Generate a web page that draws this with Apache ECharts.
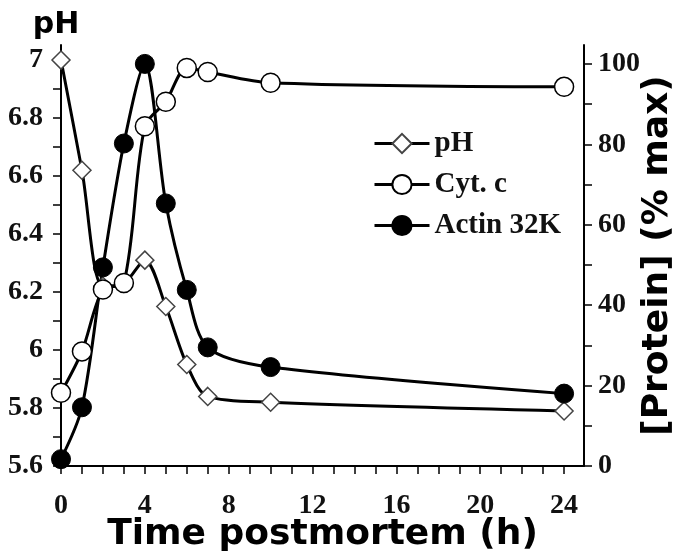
<!DOCTYPE html>
<html>
<head>
<meta charset="utf-8">
<title>pH and protein postmortem</title>
<script src="https://cdn.jsdelivr.net/npm/echarts@6/dist/echarts.min.js"></script>
<style>
  html, body { margin: 0; padding: 0; background: #fff; }
  #main { width: 675px; height: 557px; }
</style>
</head>
<body>
<div id="main"></div>
<script>
// hours postmortem
var hours = [0, 1, 2, 3, 4, 5, 6, 7, 10, 24];
// pH (left axis)
var phValues = [7.0, 6.62, 6.22, 6.23, 6.31, 6.15, 5.95, 5.84, 5.82, 5.79];
// [Protein] % max (right axis)
var cytC = [18.2, 28.5, 43.9, 45.5, 84.5, 90.6, 99, 98, 95.3, 94.3];
var actin32k = [1.7, 14.6, 49.4, 80.2, 100, 65.3, 43.8, 29.5, 24.6, 18];

// ticks and labels
var xTicks = [0, 1, 2, 3, 4, 5, 6, 7, 8, 9, 10, 11, 12, 13, 14, 15, 16, 17, 18, 19, 20, 21, 22, 23, 24];
var xLabels = [0, 4, 8, 12, 16, 20, 24];
var phTicks = [5.6, 5.7, 5.8, 5.9, 6, 6.1, 6.2, 6.3, 6.4, 6.5, 6.6, 6.7, 6.8, 6.9, 7];
var phLabels = [5.6, 5.8, 6, 6.2, 6.4, 6.6, 6.8, 7];
var protTicks = [0, 10, 20, 30, 40, 50, 60, 70, 80, 90, 100];
var protLabels = [0, 20, 40, 60, 80, 100];

function pairs(xs, ys) {
    var out = [];
    for (var i = 0; i < xs.length; i++) {
        out.push([xs[i], ys[i]]);
    }
    return out;
}

var serif = 'Liberation Serif';
var sans = 'DejaVu Sans';
var tickStyle = { show: true, inside: false, length: 8, lineStyle: { color: '#000', width: 1.5 } };
var axisLine = { show: true, onZero: false, lineStyle: { color: '#000', width: 2 } };
var labelStyle = { color: '#111', fontFamily: serif, fontWeight: 'bold', fontSize: 28 };

var myChart = echarts.init(document.getElementById('main'));
var option = {
    backgroundColor: '#fff',
    animation: false,
    grid: { left: 61, right: 91, top: 45, bottom: 91, outerBoundsMode: 'none', containLabel: false },
    legend: {
        orient: 'vertical',
        left: 368,
        top: 124,
        itemWidth: 55,
        itemHeight: 24,
        itemGap: 12,
        lineStyle: { color: '#000', width: 3 },
        textStyle: { color: '#111', fontFamily: serif, fontWeight: 'bold', fontSize: 29 },
        data: ['pH', 'Cyt. c', 'Actin 32K']
    },
    xAxis: {
        type: 'value',
        min: 0,
        max: 24.95,
        name: 'Time postmortem (h)',
        nameLocation: 'middle',
        nameGap: 51,
        nameMoveOverlap: false,
        nameTextStyle: { color: '#000', fontFamily: sans, fontWeight: 'bold', fontSize: 36 },
        axisLine: axisLine,
        axisTick: Object.assign({ customValues: xTicks }, tickStyle),
        axisLabel: Object.assign({ customValues: xLabels, margin: 26 }, labelStyle),
        splitLine: { show: false }
    },
    yAxis: [
        {
            type: 'value',
            position: 'left',
            min: 5.6,
            max: 7.052,
            name: 'pH',
            nameLocation: 'end',
            nameGap: 5,
            nameMoveOverlap: false,
            nameTextStyle: { color: '#000', fontFamily: sans, fontWeight: 'bold', fontSize: 30, padding: [0, 10, 0, 0] },
            axisLine: axisLine,
            axisTick: Object.assign({ customValues: phTicks }, tickStyle),
            axisLabel: Object.assign({ customValues: phLabels, margin: 18 }, labelStyle),
            splitLine: { show: false }
        },
        {
            type: 'value',
            position: 'right',
            min: 0,
            max: 104.7,
            name: '[Protein] (% max)',
            nameLocation: 'middle',
            nameRotate: 90,
            nameGap: 56,
            nameMoveOverlap: false,
            nameTextStyle: { color: '#000', fontFamily: sans, fontWeight: 'bold', fontSize: 36 },
            axisLine: axisLine,
            axisTick: Object.assign({ customValues: protTicks }, tickStyle),
            axisLabel: Object.assign({ customValues: protLabels, margin: 14 }, labelStyle),
            splitLine: { show: false }
        }
    ],
    series: [
        {
            name: 'pH',
            type: 'line',
            yAxisIndex: 0,
            smooth: 0.3,
            symbol: 'diamond',
            symbolSize: 18,
            lineStyle: { color: '#000', width: 3 },
            itemStyle: { color: '#fff', borderColor: '#444', borderWidth: 1.5 },
            data: pairs(hours, phValues)
        },
        {
            name: 'Cyt. c',
            type: 'line',
            yAxisIndex: 1,
            smooth: 0.3,
            symbol: 'circle',
            symbolSize: 19,
            lineStyle: { color: '#000', width: 3 },
            itemStyle: { color: '#fff', borderColor: '#000', borderWidth: 1.5 },
            data: pairs(hours, cytC)
        },
        {
            name: 'Actin 32K',
            type: 'line',
            yAxisIndex: 1,
            smooth: 0.3,
            symbol: 'circle',
            symbolSize: 19,
            lineStyle: { color: '#000', width: 3 },
            itemStyle: { color: '#000', borderColor: '#000', borderWidth: 1 },
            data: pairs(hours, actin32k)
        }
    ]
};
myChart.setOption(option);
</script>
</body>
</html>
